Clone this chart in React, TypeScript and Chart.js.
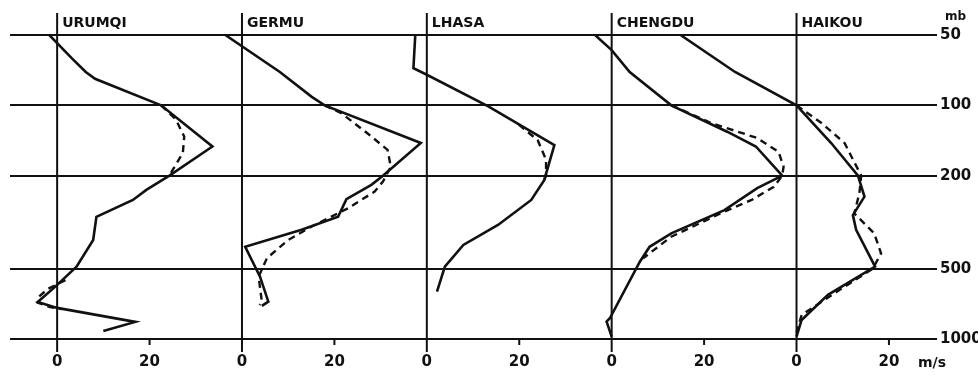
import React, { useEffect, useRef } from "react";
import { Chart, registerables } from "chart.js";

Chart.register(...registerables);

// ---------- data ----------
const STATIONS = ["URUMQI", "GERMU", "LHASA", "CHENGDU", "HAIKOU"];
const PANEL_SPAN = 40; // m/s between panel origins
const PRESSURE_TICKS = [50, 100, 200, 500, 1000];
const SPEED_TICKS = [0, 20, 40, 60, 80, 100, 120, 140, 160, 180];

const URUMQI_P = [50, 63, 72, 77, 100, 150, 200, 230, 254, 300, 377, 490, 597, 694, 736, 845, 924];
const URUMQI_V = [-1.7, 3.2, 6.2, 8.2, 22.5, 33.6, 24.3, 19.3, 16.4, 8.5, 7.8, 4.2, -0.4, -4.2, 0, 16.9, 10.0];
const URUMQI_DASH_UP_P = [100, 115, 136, 160, 189, 200];
const URUMQI_DASH_UP_V = [22.5, 25.7, 27.5, 27.2, 25.0, 24.3];
const URUMQI_DASH_LOW_P = [560, 610, 660, 700, 730, 745];
const URUMQI_DASH_LOW_V = [1.8, -2.0, -4.0, -4.2, -1.5, 1.0];

const GERMU_P = [50, 72, 92, 100, 145, 200, 219, 252, 300, 341, 403, 541, 692, 722];
const GERMU_V = [-3.6, 8.2, 15.1, 17.9, 38.7, 30.5, 28.0, 22.6, 20.8, 12.9, 0.7, 3.9, 5.7, 4.3];
const GERMU_DASH_P = [100, 108, 132, 155, 183, 212, 234, 276, 330, 377, 451, 541, 692, 715];
const GERMU_DASH_V = [17.9, 21.5, 27.2, 31.5, 32.2, 30.5, 28.7, 22.9, 15.1, 10.0, 5.4, 3.6, 4.3, 3.8];

const LHASA_P = [50, 69.4, 74, 101, 148, 209, 254, 325, 396, 490, 627];
const LHASA_V = [-2.5, -2.9, 0, 13.3, 27.6, 25.4, 22.6, 15.4, 7.9, 3.9, 2.2];
const LHASA_DASH_P = [121, 141, 171, 200, 209];
const LHASA_DASH_V = [19.9, 24.0, 25.8, 25.8, 25.4];

const CHENGDU_P = [50, 58, 72, 100, 130, 150, 200, 226, 281, 353, 403, 467, 815, 842, 977];
const CHENGDU_V = [-3.6, 0, 3.9, 12.9, 25.1, 31.2, 36.9, 31.5, 24.4, 12.9, 8.2, 6.1, -0.4, -1.1, 0];
const CHENGDU_DASH_P = [100, 119, 138, 158, 183, 200, 223, 254, 285, 365, 451];
const CHENGDU_DASH_V = [12.9, 21.5, 31.5, 36.1, 37.2, 36.9, 35.1, 30.3, 24.4, 12.9, 6.8];

const HAIKOU_P = [50, 72, 100, 145, 200, 246, 295, 341, 490, 647, 829, 977];
const HAIKOU_V = [-25.1, -13.3, 0, 7.5, 13.3, 14.7, 12.2, 12.9, 17.0, 6.8, 1.1, 0];
const HAIKOU_DASH_P = [100, 119, 145, 200, 238, 290, 353, 430, 500, 597, 789, 942];
const HAIKOU_DASH_V = [0, 5.4, 10.4, 14.0, 13.6, 12.5, 16.8, 18.3, 16.5, 10.4, 1.1, 0];

const INK = "#111111";
const FONT = "DejaVu Sans";

type Profile = { station: number; p: number[]; v: number[]; dashed: boolean };

const PROFILES: Profile[] = [
  { station: 0, p: URUMQI_P, v: URUMQI_V, dashed: false },
  { station: 0, p: URUMQI_DASH_UP_P, v: URUMQI_DASH_UP_V, dashed: true },
  { station: 0, p: URUMQI_DASH_LOW_P, v: URUMQI_DASH_LOW_V, dashed: true },
  { station: 1, p: GERMU_P, v: GERMU_V, dashed: false },
  { station: 1, p: GERMU_DASH_P, v: GERMU_DASH_V, dashed: true },
  { station: 2, p: LHASA_P, v: LHASA_V, dashed: false },
  { station: 2, p: LHASA_DASH_P, v: LHASA_DASH_V, dashed: true },
  { station: 3, p: CHENGDU_P, v: CHENGDU_V, dashed: false },
  { station: 3, p: CHENGDU_DASH_P, v: CHENGDU_DASH_V, dashed: true },
  { station: 4, p: HAIKOU_P, v: HAIKOU_V, dashed: false },
  { station: 4, p: HAIKOU_DASH_P, v: HAIKOU_DASH_V, dashed: true },
];

const overlay = {
  id: "overlay",
  afterDraw(chart: any) {
    const { ctx, chartArea } = chart;
    const x = chart.scales.x;
    ctx.save();
    ctx.strokeStyle = INK;
    ctx.fillStyle = INK;
    ctx.lineWidth = 2;
    ctx.font = `bold 14px '${FONT}'`;
    ctx.textBaseline = "middle";
    ctx.textAlign = "left";
    STATIONS.forEach((name, i) => {
      const px = x.getPixelForValue(i * PANEL_SPAN);
      ctx.beginPath();
      ctx.moveTo(px, chartArea.top - 22);
      ctx.lineTo(px, chartArea.bottom + 13);
      ctx.stroke();
      ctx.fillText(name, px + 5, chartArea.top - 12);
      const tx = x.getPixelForValue(i * PANEL_SPAN + 20);
      ctx.beginPath();
      ctx.moveTo(tx, chartArea.bottom);
      ctx.lineTo(tx, chartArea.bottom + 6);
      ctx.stroke();
    });
    ctx.font = `bold 12px '${FONT}'`;
    ctx.fillText("mb", chartArea.right + 8, chartArea.top - 18);
    ctx.font = `bold 14px '${FONT}'`;
    ctx.fillText("m/s", chartArea.right - 19, chartArea.bottom + 24);
    ctx.restore();
  },
};

export default function App() {
  const ref = useRef<HTMLCanvasElement | null>(null);
  useEffect(() => {
    if (!ref.current) return;
    const datasets = PROFILES.map((pr) => ({
      data: pr.p.map((p, i) => ({ x: pr.v[i] + pr.station * PANEL_SPAN, y: p })),
      showLine: true,
      borderColor: INK,
      backgroundColor: INK,
      borderWidth: pr.dashed ? 2.4 : 2.6,
      borderDash: pr.dashed ? [7, 5] : [],
      pointRadius: 0,
      tension: 0,
      fill: false,
    }));
    const chart = new Chart(ref.current, {
      type: "scatter",
      data: { datasets },
      plugins: [overlay],
      options: {
        animation: false,
        responsive: false,
        maintainAspectRatio: false,
        layout: { padding: { left: 10, top: 35, right: 0, bottom: 0 } },
        plugins: { legend: { display: false }, tooltip: { enabled: false } },
        scales: {
          x: {
            type: "linear",
            min: -10.2,
            max: 190.4,
            grid: { display: false, drawTicks: false },
            border: { display: false },
            afterBuildTicks: (s: any) => {
              s.ticks = SPEED_TICKS.map((v) => ({ value: v }));
            },
            afterFit: (s: any) => {
              s.height = 36;
            },
            ticks: {
              autoSkip: false,
              maxRotation: 0,
              padding: 14,
              color: INK,
              font: { family: FONT, size: 15, weight: "bold" },
              callback: (v: any) => (Number(v) % PANEL_SPAN === 0 ? "0" : "20"),
            },
          },
          y: {
            type: "logarithmic",
            position: "right",
            reverse: true,
            min: 50,
            max: 1000,
            grid: { color: INK, lineWidth: 2, drawTicks: false },
            border: { display: false },
            afterBuildTicks: (s: any) => {
              s.ticks = PRESSURE_TICKS.map((v) => ({ value: v }));
            },
            afterFit: (s: any) => {
              s.width = 41;
            },
            ticks: {
              padding: 3,
              color: INK,
              font: { family: FONT, size: 15, weight: "bold" },
              callback: (v: any) => String(v),
            },
          },
        },
      },
    });
    return () => chart.destroy();
  }, []);
  return (
    <div style={{ position: "fixed", left: 0, top: 0, width: 978, height: 375, background: "#fff" }}>
      <canvas ref={ref} width={978} height={375} style={{ width: 978, height: 375 }} />
    </div>
  );
}
